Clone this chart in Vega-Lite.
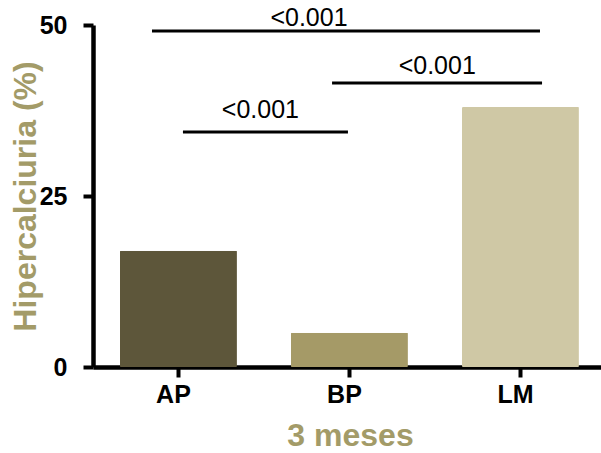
{
  "$schema": "https://vega.github.io/schema/vega-lite/v6.json",
  "autosize": "none",
  "padding": {"left": 93, "top": 25, "right": 0, "bottom": 86},
  "width": 508,
  "height": 342,
  "config": {"view": {"stroke": null}, "font": "Liberation Sans"},
  "datasets": {
    "bars": [
      {"grupo": "AP", "valor": 17},
      {"grupo": "BP", "valor": 5},
      {"grupo": "LM", "valor": 38}
    ],
    "brackets": [
      {"inicio": 0.345, "fin": 2.614, "y": 49.12, "xt": 1.263, "yt": 49.85, "p": "<0.001"},
      {"inicio": 1.398, "fin": 2.626, "y": 41.52, "xt": 2.013, "yt": 42.84, "p": "<0.001"},
      {"inicio": 0.526, "fin": 1.491, "y": 34.36, "xt": 0.979, "yt": 36.4, "p": "<0.001"}
    ]
  },
  "layer": [
    {
      "data": {"name": "bars"},
      "mark": {"type": "bar", "cornerRadius": 1},
      "encoding": {
        "x": {
          "field": "grupo", "type": "nominal", "sort": ["AP", "BP", "LM"],
          "scale": {"paddingInner": 0.316, "paddingOuter": 0.1435, "align": 0.55},
          "axis": {
            "title": "3 meses", "titleFontSize": 32, "titleFontWeight": "bold", "titleColor": "#a39b68",
            "titleX": 257, "titleY": 78, "titleBaseline": "alphabetic", "titleAnchor": null, "titleAlign": "center",
            "labelAngle": 0, "labelFontSize": 25, "labelFontWeight": "bold", "labelColor": "black",
            "labelBaseline": "alphabetic", "labelPadding": 25, "labelOffset": -5,
            "domainColor": "black", "domainWidth": 4.5, "tickColor": "black", "tickWidth": 4, "tickSize": 10
          }
        },
        "y": {
          "field": "valor", "type": "quantitative", "title": "Hipercalciuria (%)",
          "scale": {"domain": [0, 50], "nice": false},
          "axis": {
            "titleFontSize": 32, "titleFontWeight": "bold", "titleColor": "#a39b68",
            "titleX": -58, "titleBaseline": "alphabetic", "titleAngle": -90,
            "values": [0, 25, 50], "grid": false,
            "labelFontSize": 25, "labelFontWeight": "bold", "labelColor": "black", "labelPadding": 16,
            "domainColor": "black", "domainWidth": 4.5, "tickColor": "black", "tickWidth": 4, "tickSize": 10
          }
        },
        "color": {
          "field": "grupo", "type": "nominal", "legend": null,
          "scale": {"domain": ["AP", "BP", "LM"], "range": ["#5d563a", "#a59a67", "#cfc8a5"]}
        }
      }
    },
    {
      "data": {"name": "brackets"},
      "mark": {"type": "rule", "strokeWidth": 3, "color": "black"},
      "encoding": {
        "x": {"field": "inicio", "type": "quantitative", "scale": {"domain": [0, 2.9708], "nice": false, "zero": false}, "axis": null},
        "x2": {"field": "fin"},
        "y": {"field": "y", "type": "quantitative", "title": "Hipercalciuria (%)"}
      }
    },
    {
      "data": {"name": "brackets"},
      "mark": {"type": "text", "fontSize": 25, "color": "black", "baseline": "alphabetic", "align": "center"},
      "encoding": {
        "x": {"field": "xt", "type": "quantitative", "scale": {"domain": [0, 2.9708], "nice": false, "zero": false}, "axis": null},
        "y": {"field": "yt", "type": "quantitative", "title": "Hipercalciuria (%)"},
        "text": {"field": "p"}
      }
    }
  ],
  "resolve": {"scale": {"x": "independent"}}
}
